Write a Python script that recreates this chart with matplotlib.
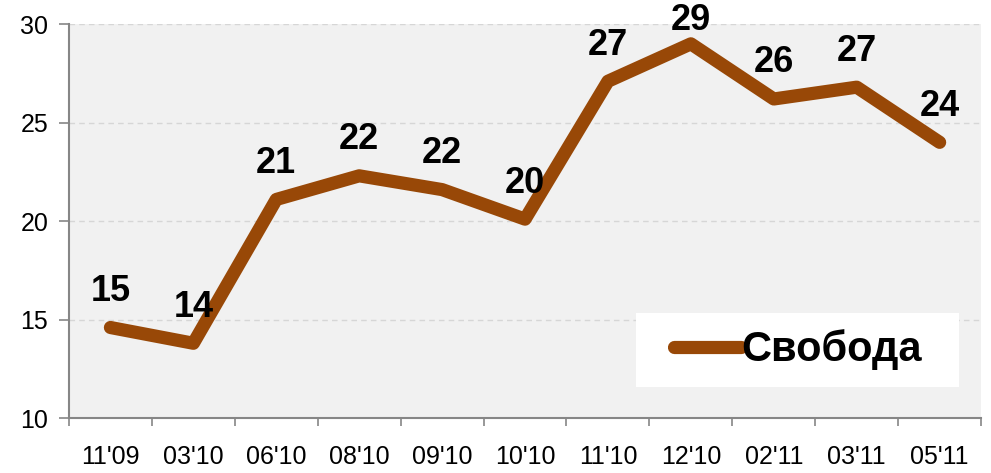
import matplotlib
import matplotlib.pyplot as plt
from matplotlib.patches import Rectangle
import numpy as np

matplotlib.use('agg')
plt.rcParams['font.family'] = ['Liberation Sans', 'DejaVu Sans']

periods = ["11'09", "03'10", "06'10", "08'10", "09'10", "10'10", "11'10", "12'10", "02'11", "03'11", "05'11"]
svoboda = [14.6, 13.8, 21.1, 22.3, 21.6, 20.1, 27.1, 29.0, 26.2, 26.8, 24.0]
labels = ['15', '14', '21', '22', '22', '20', '27', '29', '26', '27', '24']

line_color = '#984807'
axis_color = '#868686'

fig = plt.figure(figsize=(9.91, 4.73), dpi=100)
ax = fig.add_axes([0.0696, 0.116, 0.9204, 0.833])
ax.set_facecolor('#f1f1f1')

x = np.arange(len(periods))
ax.plot(x, svoboda, color=line_color, lw=9.5, solid_capstyle='round',
        solid_joinstyle='round', label='Свобода', zorder=3)

for i, v in enumerate(svoboda):
    # labels near the top get pushed down so they stay inside the chart
    off = 26 if v < 28 else 17
    ax.annotate(labels[i], (i, v), xytext=(0, off), textcoords='offset points',
                ha='center', va='center', fontsize=26, fontweight='bold', zorder=4,
                annotation_clip=False)

ax.set_xlim(-0.5, len(periods) - 0.5)
ax.set_ylim(10, 30)
ax.set_yticks([10, 15, 20, 25, 30])
ax.set_xticks(x)
ax.set_xticklabels(periods)
ax.set_xticks(np.arange(-0.5, len(periods)), minor=True)
ax.tick_params(axis='x', which='major', length=0, pad=19, labelsize=18)
ax.tick_params(axis='x', which='minor', length=6, color=axis_color, width=1.2)
ax.tick_params(axis='y', length=7, color=axis_color, width=1.2, labelsize=18, pad=8)

ax.grid(axis='y', color='#d6d6d6', linestyle=(0, (4, 3)), lw=1)
ax.set_axisbelow(True)
for s in ['top', 'right']:
    ax.spines[s].set_visible(False)
for s in ['left', 'bottom']:
    ax.spines[s].set_color(axis_color)
    ax.spines[s].set_linewidth(1.5)

# white legend box
ax.add_patch(Rectangle((0.622, 0.079), 0.354, 0.188, transform=ax.transAxes,
                       facecolor='white', edgecolor='none', zorder=2))
leg = ax.legend(loc='center', bbox_to_anchor=(0.799, 0.173), frameon=False,
                prop={'weight': 'bold', 'size': 30},
                handlelength=1.6, handletextpad=0.0, borderpad=0)

fig.savefig('out.png', dpi=100)
